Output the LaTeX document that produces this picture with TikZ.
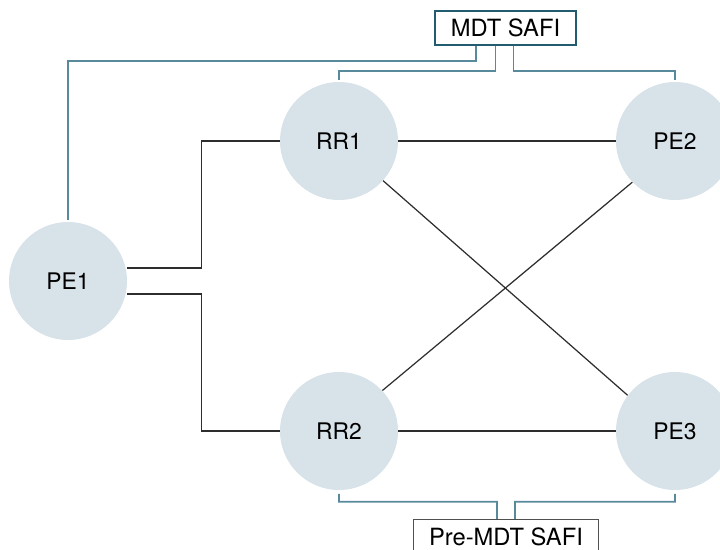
\documentclass[tikz,border=0pt]{standalone}
\usepackage{fontspec}
\setmainfont{TeX Gyre Heros}
\usetikzlibrary{positioning,calc}
\definecolor{rtrfill}{RGB}{215,226,233}
\definecolor{mgmtline}{RGB}{88,138,156}
\definecolor{mdtedge}{RGB}{34,92,112}
\definecolor{preedge}{RGB}{80,80,80}
\definecolor{lnkline}{RGB}{45,45,45}
\tikzset{
  rtr/.style    ={circle, fill=rtrfill, minimum size=2.36cm, inner sep=0pt,
                  font=\fontsize{13}{15}\selectfont},
  safi/.style   ={draw, line width=0.75pt, fill=white, minimum height=0.68cm,
                  inner xsep=9pt, inner ysep=0pt, font=\fontsize{13.5}{15}\selectfont},
  lnk/.style    ={draw=lnkline, line width=0.7pt},
  mgmt/.style   ={draw=mgmtline, line width=1pt},
}

\begin{document}
\begin{tikzpicture}[x=0.02cm, y=-0.02cm]
\useasboundingbox (0,0) rectangle (720,550);
\clip (0,0) rectangle (720,550);
\node[rtr] (pe1) at (68,281) {PE1};
\node[rtr] (rr1) at (339,141) {RR1};
\node[rtr] (pe2) at (675,141) {PE2};
\node[rtr] (rr2) at (339,431) {RR2};
\node[rtr] (pe3) at (675,431) {PE3};
\node[safi, draw=mdtedge] (mdt) at (505.5,28) {MDT SAFI};
\node[safi, draw=preedge] (pre) at (506,536.5) {Pre-MDT SAFI};
% links between the routers
\draw[lnk] ([yshift=7.4pt]pe1.east) -- ++(74,0) |- (rr1.west);
\draw[lnk] ([yshift=-7.4pt]pe1.east) -- ++(74,0) |- (rr2.west);
\draw[lnk] (rr1.east) -- (pe2.west);
\draw[lnk] (rr2.east) -- (pe3.west);
\draw[lnk] (rr1.-42) -- (pe3.143);
\draw[lnk] (pe2.-136) -- (rr2.43);
% SAFI sessions
\draw[mgmt] ([xshift=-17pt]mdt.south) -- ++(0,15) -| ([yshift=1pt]pe1.north);
\draw[mgmt] ([xshift=-5.7pt]mdt.south) -- ++(0,25) -| ([yshift=1pt]rr1.north);
\draw[mgmt] ([xshift=4.5pt]mdt.south) -- ++(0,25) -| ([yshift=1pt]pe2.north);
\draw[mgmt] ([yshift=-2pt]rr2.south) |- ($(pre.north)+(-9,-17)$) -- ([xshift=-5.1pt]pre.north);
\draw[mgmt] ([yshift=-2pt]pe3.south) |- ($(pre.north)+(9,-17)$) -- ([xshift=5.1pt]pre.north);
\end{tikzpicture}
\end{document}
